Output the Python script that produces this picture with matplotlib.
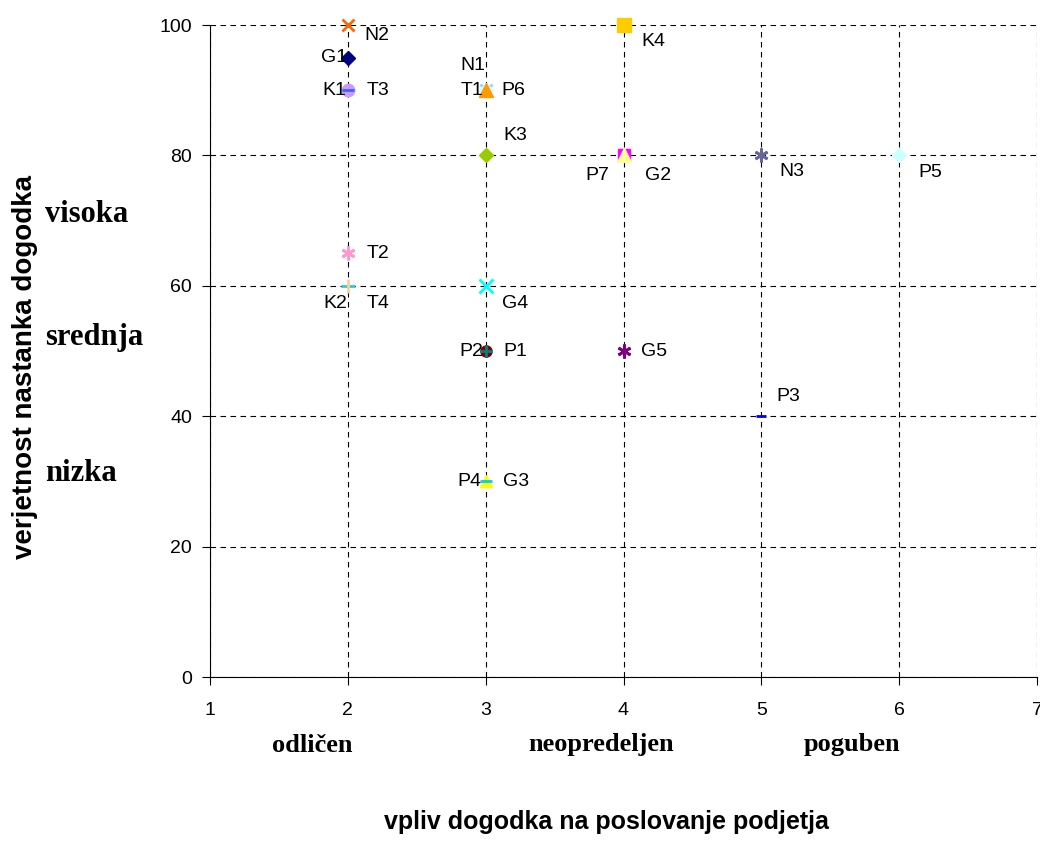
import matplotlib.pyplot as plt

# risk register: impact (x) vs. probability (y)
names = ['N2', 'G1', 'K1', 'T3', 'N1', 'P6', 'T1', 'K4', 'K3', 'P7', 'G2', 'N3', 'P5',
         'T2', 'K2', 'T4', 'G4', 'P2', 'P1', 'G5', 'P3', 'P4', 'G3']
impact = [2, 2, 2, 2, 3, 3, 3, 4, 3, 4, 4, 5, 6,
          2, 2, 2, 3, 3, 3, 4, 5, 3, 3]
probability = [100, 95, 90, 90, 90, 90, 90, 100, 80, 80, 80, 80, 80,
               65, 60, 60, 60, 50, 50, 50, 40, 30, 30]

y_levels = ['visoka', 'srednja', 'nizka']
x_levels = ['odličen', 'neopredeljen', 'poguben']

ast = (6, 2, 0)
style = {
    'N2': ('x', '#FF6600', 9), 'G1': ('D', '#000080', 7), 'K1': ('o', '#CC99FF', 9),
    'T3': ('_', '#3366FF', 9), 'N1': ('x', '#99CCFF', 9), 'P6': ('D', '#CCFFFF', 7),
    'T1': ('^', '#FF9900', 10), 'K4': ('s', '#FFCC00', 10), 'K3': ('D', '#99CC00', 7),
    'P7': ('s', '#FF00FF', 9), 'G2': ('^', '#FFFF99', 10), 'N3': (ast, '#666699', 10),
    'P5': ('D', '#CCFFFF', 7), 'T2': (ast, '#FF99CC', 10), 'T4': ('|', '#FFCC99', 10),
    'K2': ('_', '#33CCCC', 10), 'G4': ('x', '#00FFFF', 10), 'P2': ('o', '#800000', 8),
    'P1': ('+', '#008080', 9), 'G5': (ast, '#800080', 10), 'P3': ('_', '#0000FF', 7),
    'P4': ('^', '#FFFF00', 9), 'G3': ('_', '#00CCFF', 9),
}
# label offsets in pixels (dx, dy)
offs = {
    'N2': (29, -11), 'G1': (-14, 0), 'K1': (-14, 0), 'T3': (30, 0), 'N1': (-13, 25),
    'P6': (28, 0), 'T1': (-14, 0), 'K4': (30, -17), 'K3': (30, 20), 'P7': (-26, -20),
    'G2': (35, -20), 'N3': (31, -16), 'P5': (31, -17), 'T2': (30, 0), 'K2': (-13, -18),
    'T4': (30, -18), 'G4': (29, -18), 'P2': (-14, 0), 'P1': (30, 0), 'G5': (31, 0),
    'P3': (27, 20), 'P4': (-16, 0), 'G3': (30, 0),
}

plt.rcParams['font.family'] = ['Liberation Sans', 'DejaVu Sans']
fig = plt.figure(figsize=(10.4, 8.6), dpi=100)
ax = fig.add_axes([210 / 1040, 1 - 677 / 860, 827 / 1040, 652 / 860])

for n, x, y in zip(names, impact, probability):
    m, c, s = style[n]
    ax.plot(x, y, marker=m, color=c, markersize=s, markeredgewidth=2 if m in ('x', '+', '_', '|', ast) else 1,
            linestyle='none', zorder=3, clip_on=False)
    ax.annotate(n, (x, y), xytext=offs[n], textcoords='offset pixels',
                ha='center', va='center', fontsize=14, zorder=4)

ax.set_xlim(1, 7)
ax.set_ylim(0, 100)
ax.set_xticks(range(1, 8))
ax.set_yticks(range(0, 101, 20))
ax.tick_params(labelsize=14, length=6, direction='out')
ax.tick_params(axis='x', pad=12)
ax.tick_params(axis='y', pad=7)
ax.grid(True, color='black', linestyle=(0, (5, 4)), linewidth=0.8)
ax.set_axisbelow(True)
for sp in ['top', 'right']:
    ax.spines[sp].set_visible(False)

# qualitative scales in serif
for lab, yp in zip(y_levels, [215, 337, 474]):
    fig.text(45 / 1040, 1 - yp / 860, lab, fontsize=22, fontweight='bold',
             family='Liberation Serif', ha='left', va='center')
for lab, xp in zip(x_levels, [312, 601, 852]):
    fig.text(xp / 1040, 1 - 745 / 860, lab, fontsize=19, fontweight='bold',
             family='Liberation Serif', ha='center', va='center')

fig.text(25 / 1040, 1 - 367 / 860, 'verjetnost nastanka dogodka', rotation=90,
         fontsize=20, fontweight='bold', ha='center', va='center')
fig.text(606 / 1040, 1 - 822 / 860, 'vpliv dogodka na poslovanje podjetja',
         fontsize=18, fontweight='bold', ha='center', va='center')

fig.savefig('out.png', dpi=100)
